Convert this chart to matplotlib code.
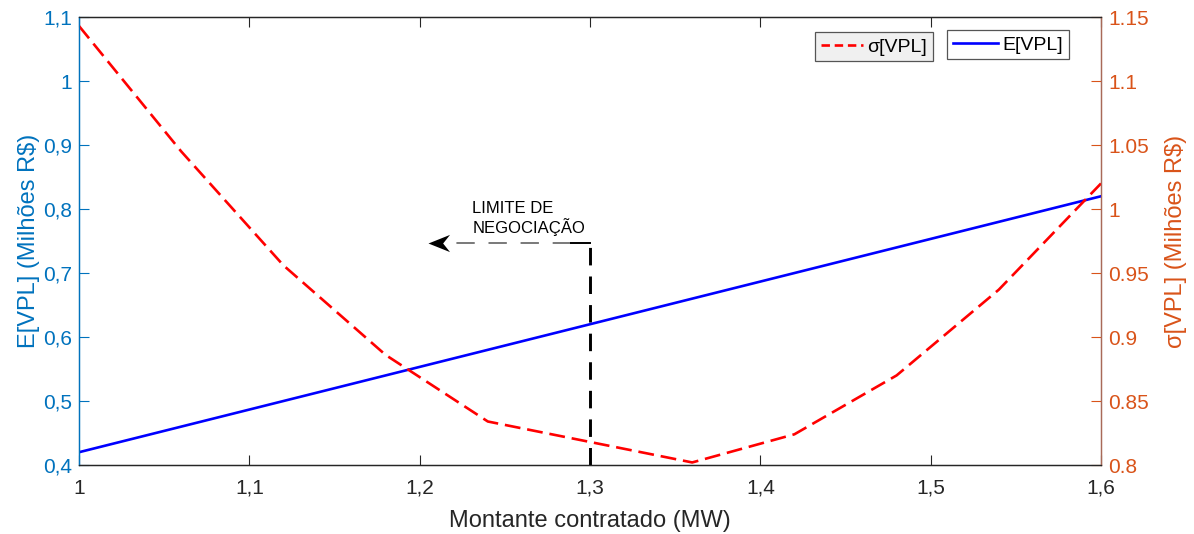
import matplotlib
matplotlib.use("Agg")
import matplotlib.pyplot as plt
from matplotlib.ticker import FixedLocator, FixedFormatter
from matplotlib.lines import Line2D
from matplotlib.path import Path

plt.rcParams['font.family'] = ['Liberation Sans', 'DejaVu Sans']

# Contracted amount (MW)
montante = [1.00, 1.06, 1.12, 1.18, 1.24, 1.30, 1.36, 1.42, 1.48, 1.54, 1.60]
# Expected NPV (millions R$)
e_vpl = [0.42, 0.46, 0.50, 0.54, 0.58, 0.62, 0.66, 0.70, 0.74, 0.78, 0.82]
# NPV standard deviation (millions R$)
sigma_vpl = [1.143, 1.045, 0.956, 0.886, 0.834, 0.818, 0.802, 0.824, 0.870, 0.937, 1.020]

x_ticks = [1.0, 1.1, 1.2, 1.3, 1.4, 1.5, 1.6]
x_ticklabels = ['1', '1,1', '1,2', '1,3', '1,4', '1,5', '1,6']
left_ticks = [0.4, 0.5, 0.6, 0.7, 0.8, 0.9, 1.0, 1.1]
left_ticklabels = ['0,4', '0,5', '0,6', '0,7', '0,8', '0,9', '1', '1,1']
right_ticks = [0.8, 0.85, 0.9, 0.95, 1.0, 1.05, 1.1, 1.15]
right_ticklabels = ['0.8', '0.85', '0.9', '0.95', '1', '1.05', '1.1', '1.15']

limite_x = 1.3
limite_y = 0.747
arrow_end_x = 1.205

blue_axis = '#0072BD'
orange_axis = '#D95319'
right_spine = '#A86A58'
dark = '#262626'

sigma_dash = (0, (6.0, 2.6))

fig = plt.figure(figsize=(11.94, 5.34), dpi=100)
ax1 = fig.add_axes([0.0662, 0.1292, 0.9221 - 0.0662, 0.968 - 0.1292])
ax2 = ax1.twinx()

ax1.plot(montante, e_vpl, color='#0000FF', lw=1.9, label='E[VPL]', zorder=4)
ax2.plot(montante, sigma_vpl, color='#FF0000', lw=1.9, ls=sigma_dash, label='σ[VPL]')

ax1.set_xlim(1.0, 1.6)
ax1.set_ylim(0.4, 1.1)
ax2.set_ylim(0.8, 1.15)

ax1.xaxis.set_major_locator(FixedLocator(x_ticks))
ax1.xaxis.set_major_formatter(FixedFormatter(x_ticklabels))
ax1.yaxis.set_major_locator(FixedLocator(left_ticks))
ax1.yaxis.set_major_formatter(FixedFormatter(left_ticklabels))
ax2.yaxis.set_major_locator(FixedLocator(right_ticks))
ax2.yaxis.set_major_formatter(FixedFormatter(right_ticklabels))

fs_tick = 15
ax1.tick_params(axis='x', direction='in', length=7, width=0.8, colors=dark,
                labelsize=fs_tick, top=True, pad=10)
ax1.tick_params(axis='y', direction='in', length=7, width=0.8, colors=blue_axis,
                labelsize=fs_tick, pad=5)
ax2.tick_params(axis='y', direction='in', length=7, width=0.8, colors=orange_axis,
                labelsize=fs_tick, pad=5)

for ax in (ax1, ax2):
    ax.spines['top'].set_color(dark)
    ax.spines['bottom'].set_color(dark)
    ax.spines['left'].set_color(blue_axis)
    ax.spines['right'].set_color(right_spine)
    for s in ax.spines.values():
        s.set_linewidth(0.9)

ax1.set_xlabel('Montante contratado (MW)', fontsize=17, color=dark, labelpad=9)
ax1.set_ylabel('E[VPL] (Milhões R$)', fontsize=17, color=blue_axis, labelpad=2)
ax2.set_ylabel('σ[VPL] (Milhões R$)', fontsize=17, color=orange_axis, labelpad=12)

# Negotiation limit marker
ax1.plot([limite_x, limite_x], [0.4, limite_y + 0.005], color='black', lw=2.1,
         ls=(0, (6, 3.8)), zorder=3)
ax1.plot([limite_x - 0.011, arrow_end_x + 0.016], [limite_y, limite_y], color='#555555',
         lw=1.1, ls=(0, (12, 9)), zorder=3)
ax1.plot([limite_x - 0.011, limite_x], [limite_y, limite_y], color='black', lw=1.4, zorder=3)

arrow_head = Path([(0, 0), (1, 0.4), (0.68, 0), (1, -0.4), (0, 0)],
                  [Path.MOVETO, Path.LINETO, Path.LINETO, Path.LINETO, Path.CLOSEPOLY])
ax1.plot([arrow_end_x], [limite_y], marker=arrow_head, markersize=31,
         color='black', markeredgewidth=0, zorder=5)

ax1.text(1.2308, 0.7937, 'LIMITE DE', fontsize=12, color='black',
         ha='left', va='baseline')
ax1.text(1.2308, 0.7625, 'NEGOCIAÇÃO', fontsize=12, color='black',
         ha='left', va='baseline')

# Separate legend boxes for each series
h_sig = Line2D([], [], color='#FF0000', lw=1.9, ls=(0, (3.2, 1.8)))
h_e = Line2D([], [], color='#0000FF', lw=1.9)
leg1 = ax2.legend([h_sig], ['σ[VPL]'], loc='upper left', bbox_to_anchor=(0.7202, 0.9665),
                  fontsize=14, frameon=True, fancybox=False, handlelength=2.15,
                  handletextpad=0.25, borderpad=0.3, borderaxespad=0)
leg1.get_frame().set_facecolor('#F0F0F0')
leg1.get_frame().set_edgecolor('#555555')
leg1.get_frame().set_linewidth(0.9)
leg1.get_frame().set_alpha(1)
ax2.add_artist(leg1)
leg2 = ax2.legend([h_e], ['E[VPL]'], loc='upper left', bbox_to_anchor=(0.8493, 0.971),
                  fontsize=14, frameon=True, fancybox=False, handlelength=2.3,
                  handletextpad=0.25, borderpad=0.3, borderaxespad=0)
leg2.get_frame().set_facecolor('white')
leg2.get_frame().set_edgecolor('#555555')
leg2.get_frame().set_linewidth(0.9)
leg2.get_frame().set_alpha(1)

fig.savefig('out.png', dpi=100)
